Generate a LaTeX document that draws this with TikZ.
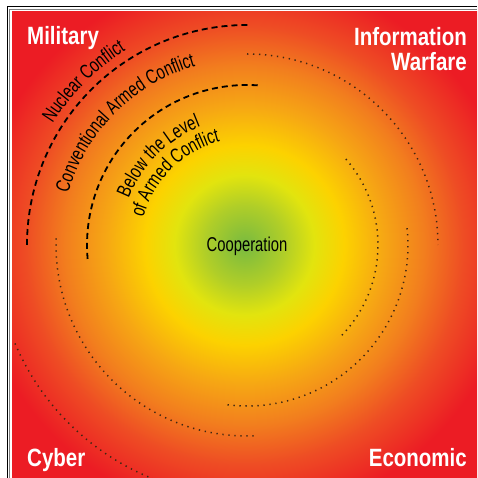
\documentclass[tikz,border=0pt]{standalone}
\usepackage{fontspec}
\setmainfont{Liberation Sans}[FakeStretch=0.82]
\newfontfamily\narrowfont{Liberation Sans}[FakeStretch=0.74]
\usetikzlibrary{decorations.text}

\definecolor{coopgreen}{RGB}{120,186,64}
\definecolor{coopleaf}{RGB}{176,206,40}
\definecolor{coopyellow}{RGB}{226,228,14}
\definecolor{coopgold}{RGB}{252,210,0}
\definecolor{cooporange}{RGB}{246,166,20}
\definecolor{coopamber}{RGB}{242,126,30}
\definecolor{coopscarlet}{RGB}{238,76,36}
\definecolor{coopred}{RGB}{236,28,36}
\definecolor{coopdot}{RGB}{60,38,18}

\pgfdeclareradialshading{coopglow}{\pgfpoint{0bp}{0bp}}{%
  color(0bp)=(coopgreen); color(4.3bp)=(coopleaf); color(7.5bp)=(coopyellow);
  color(10.7bp)=(coopgold); color(15bp)=(cooporange); color(19.3bp)=(coopamber);
  color(23.6bp)=(coopscarlet); color(29bp)=(coopred); color(50bp)=(coopred)}

\newcommand{\cornerfont}{\fontsize{25}{25}\selectfont\bfseries}
\newcommand{\arcfont}{\narrowfont\fontsize{20}{20}\selectfont}

\begin{document}
\begin{tikzpicture}[x=1pt,y=1pt,
  ring/.style={line width=1.8pt, dash pattern=on 6pt off 4pt},
  dotring/.style={line width=1.5pt, dash pattern=on 1.3pt off 4.7pt, color=coopdot},
  corner/.style={text=white, font=\cornerfont, inner sep=0pt}]
\useasboundingbox (0,0) rectangle (477,478);

\shade[shading=coopglow] (12,0) rectangle (477,466);
\draw[line width=1pt] (7,0) -- (7,471) -- (477,471);
\draw[line width=0.5pt, gray] (9.5,0) -- (9.5,468.5) -- (477,468.5);

\coordinate (mid) at (247,233);

\draw[ring] ([shift={(180:220)}]mid) arc[start angle=180, end angle=89, radius=220];
\draw[ring] ([shift={(185:160)}]mid) arc[start angle=185, end angle=85, radius=160];

\begin{scope}
  \clip (12,0) rectangle (477,466);
  \draw[dotring] ([shift={(90:191)}]mid) arc[start angle=90, end angle=0, radius=191];
  \draw[dotring] ([shift={(41:131)}]mid) arc[start angle=41, end angle=-44, radius=131];
  \draw[dotring] ([shift={(6:161)}]mid) arc[start angle=6, end angle=-97, radius=161];
  \draw[dotring] ([shift={(178:191)}]mid) arc[start angle=178, end angle=272, radius=191];
  \draw[dotring] ([shift={(203:252)}]mid) arc[start angle=203, end angle=252, radius=252];
\end{scope}

% Schriftbogen
\path[decorate, decoration={text along path, text align=center,
  text={|\arcfont|Nuclear Conflict}}]
  ([shift={(180:229)}]mid) arc[start angle=180, end angle=90, radius=229];
\path[decorate, decoration={text along path, text align=center,
  text={|\arcfont|Conventional Armed Conflict}}]
  ([shift={(180:186)}]mid) arc[start angle=180, end angle=90, radius=186];
\path[decorate, decoration={text along path, text align=center,
  text={|\arcfont|Below the Level}}]
  ([shift={(180:127)}]mid) arc[start angle=180, end angle=90, radius=127];
\path[decorate, decoration={text along path, text align=center,
  text={|\arcfont|of Armed Conflict}}]
  ([shift={(180:107)}]mid) arc[start angle=180, end angle=90, radius=107];

\node[corner, anchor=base west] (military) at (27,433) {Military};
\node[corner, anchor=north east, align=right] (infowar) at (467,451) {Information\\Warfare};
\node[corner, anchor=base west] (cyber) at (27,12) {Cyber};
\node[corner, anchor=base east] (economic) at (467,12) {Economic};
\node[font=\arcfont, anchor=base] (coop) at (247,226) {Cooperation};
\end{tikzpicture}
\end{document}
